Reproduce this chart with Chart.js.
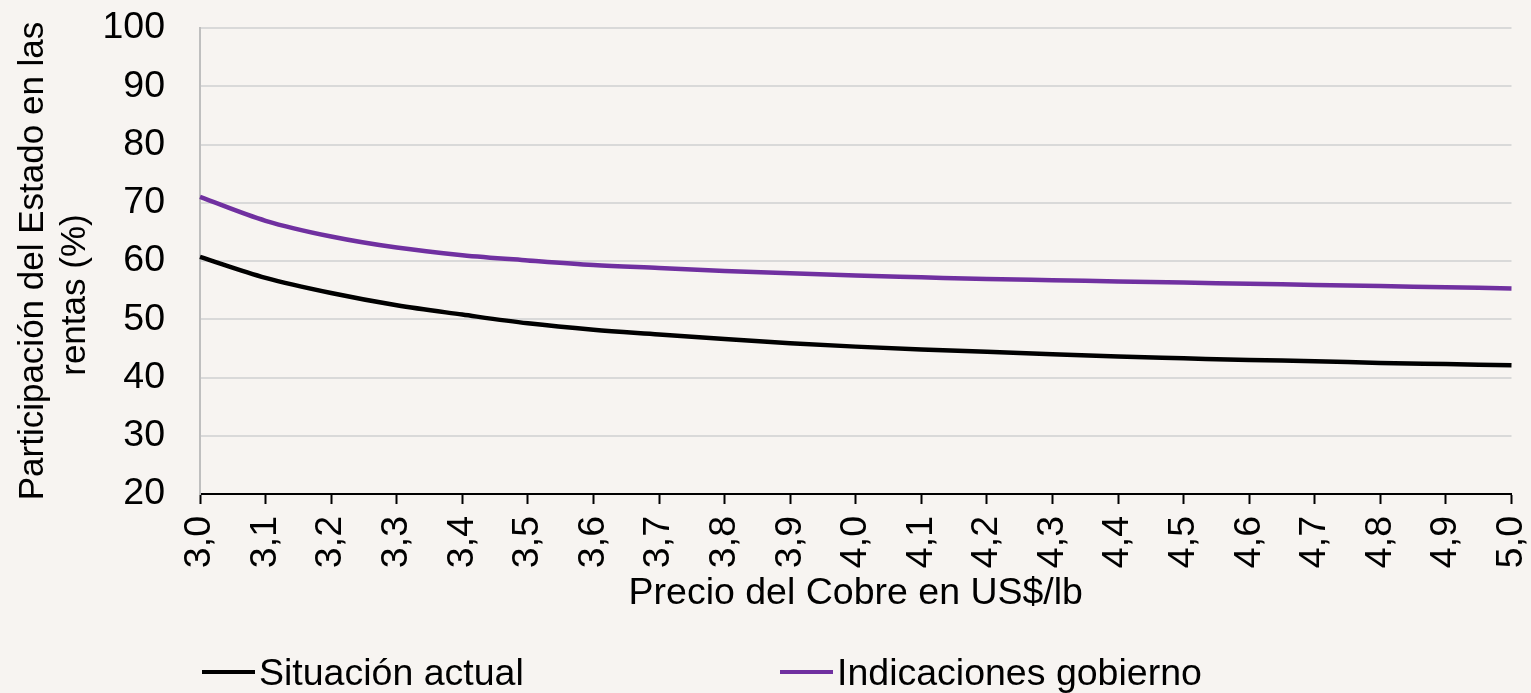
<!DOCTYPE html>
<html>
<head>
<meta charset="utf-8">
<script src="https://cdn.jsdelivr.net/npm/chart.js@4.4.0/dist/chart.umd.min.js"></script>
<style>
  html, body { margin: 0; padding: 0; background: #f7f4f1; }
  #wrap { position: relative; width: 1531px; height: 693px; }
  #legend { position: absolute; left: 0; top: 0; width: 1531px; height: 693px; pointer-events: none;
            font-family: "Liberation Sans", Arial, sans-serif; font-size: 37.5px; color: #000; }
  .item { position: absolute; top: 650px; height: 44px; display: flex; align-items: center; }
  .dash { width: 53px; height: 4px; margin-right: 4px; }
</style>
</head>
<body>
<div id="wrap">
  <canvas id="chart" width="1531" height="693"></canvas>
  <div id="legend"></div>
</div>
<script>
// precio del cobre (US$/lb)
const precios = ['3,0', '3,1', '3,2', '3,3', '3,4', '3,5', '3,6', '3,7', '3,8', '3,9', '4,0',
                 '4,1', '4,2', '4,3', '4,4', '4,5', '4,6', '4,7', '4,8', '4,9', '5,0'];
const situacionActual = [60.7, 57.1, 54.5, 52.4, 50.8, 49.3, 48.2, 47.4, 46.6, 45.9, 45.3,
                         44.8, 44.4, 44.0, 43.6, 43.3, 43.0, 42.8, 42.5, 42.3, 42.1];
const indicacionesGobierno = [71.0, 66.9, 64.2, 62.3, 61.0, 60.1, 59.3, 58.8, 58.3, 57.9, 57.5,
                              57.2, 56.9, 56.7, 56.5, 56.3, 56.1, 55.9, 55.7, 55.5, 55.3];
const yMin = 20, yMax = 100, yStep = 10;

const font = "'Liberation Sans', Arial, sans-serif";

const series = [
  { label: 'Situación actual', data: situacionActual, color: '#000000', legendX: 202 },
  { label: 'Indicaciones gobierno', data: indicacionesGobierno, color: '#7030a0', legendX: 780 }
];

let ctx = document.getElementById('chart').getContext('2d');
let chart = new Chart(ctx, {
  type: 'line',
  data: {
    labels: precios,
    datasets: series.map(s => ({
      label: s.label,
      data: s.data,
      borderColor: s.color,
      backgroundColor: s.color,
      borderWidth: 4.5,
      pointRadius: 0,
      cubicInterpolationMode: 'monotone',
      fill: false
    }))
  },
  options: {
    responsive: false,
    animation: false,
    layout: { padding: { left: 0, right: 19, top: 28, bottom: 53 } },
    plugins: { legend: { display: false }, tooltip: { enabled: false } },
    scales: {
      x: {
        offset: false,
        afterFit: scale => { scale.height = 146; },
        border: { display: true, color: '#000', width: 2 },
        grid: { drawOnChartArea: false, drawTicks: true, tickLength: 10, tickColor: '#000', tickWidth: 2 },
        ticks: {
          color: '#000', font: { family: font, size: 37.5, lineHeight: 0.2 },
          minRotation: 90, maxRotation: 90, autoSkip: false, padding: 12
        },
        title: {
          display: true, text: 'Precio del Cobre en US$/lb', color: '#000',
          font: { family: font, size: 37.5 }, padding: { top: 0, bottom: 24 }
        }
      },
      y: {
        min: yMin, max: yMax,
        afterFit: scale => { scale.width = 200; },
        border: { display: true, color: '#bfbfbf', width: 2 },
        grid: { color: '#d9d9d9', lineWidth: 2, drawTicks: true, tickLength: 35, tickColor: 'rgba(0,0,0,0)' },
        ticks: {
          stepSize: yStep, color: '#000', padding: 0,
          font: { family: font, size: 37.5 }
        },
        title: {
          display: true,
          // espacios finales para bajar la segunda línea como en el original
          text: ['Participación del Estado en las', 'rentas (%)\u00a0\u00a0\u00a0\u00a0\u00a0\u00a0\u00a0'],
          color: '#000',
          font: { family: font, size: 35 }, padding: { top: 12, bottom: 0 }
        }
      }
    }
  }
});

// leyenda abajo
let legendBox = document.getElementById('legend');
series.forEach(s => {
  let item = document.createElement('div');
  item.className = 'item';
  item.style.left = s.legendX + 'px';
  item.innerHTML = `<span class="dash" style="background:${s.color}"></span><span>${s.label}</span>`;
  legendBox.appendChild(item);
});
</script>
</body>
</html>
